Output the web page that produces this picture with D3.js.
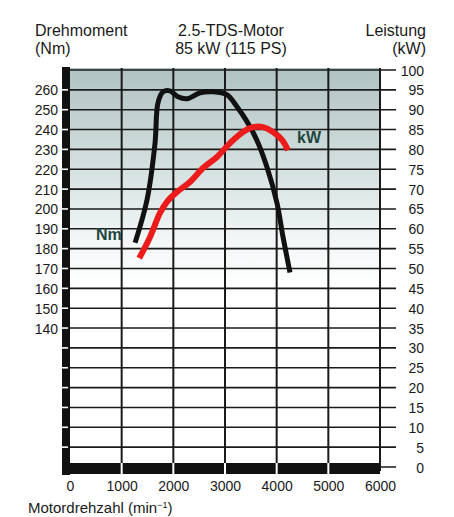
<!DOCTYPE html>
<html>
<head>
<meta charset="utf-8">
<script src="https://cdn.jsdelivr.net/npm/d3@7"></script>
<style>
  body { margin: 0; background: #fff; }
  text { font-family: "Liberation Sans", Arial, sans-serif; fill: #1a1a1a; }
</style>
</head>
<body>
<script>
// rpm values and readings
var rpmTicks = [0, 1000, 2000, 3000, 4000, 5000, 6000];
var kwTicks = d3.range(0, 101, 5);
var nmLabels = [140, 150, 160, 170, 180, 190, 200, 210, 220, 230, 240, 250, 260];
var nmMarks = [80, 90, 100, 110, 120, 130, 140, 150, 160, 170, 180, 190, 200, 210, 220, 230, 240, 250, 260];

var torqueRpm = [1260, 1490, 1645, 1703, 1800, 1935, 2090, 2264, 2516, 2768, 3039, 3232, 3426, 3619, 3813, 4006, 4122, 4258];
var torqueNm  = [183, 204.5, 233, 253.5, 259, 259.5, 256.5, 255.5, 258.5, 259, 257.5, 251.5, 244, 234.5, 221, 203, 186, 168];

var powerRpm = [1340, 1548, 1742, 1877, 2071, 2322, 2574, 2845, 3097, 3348, 3542, 3735, 3929, 4103, 4219];
var powerKw  = [52.6, 57.9, 64.0, 66.8, 69.3, 71.8, 75.3, 78.1, 81.6, 84.4, 85.6, 85.6, 84.4, 82.4, 79.8];

let chart = function() {
    let w = 454, h = 517;

    let svg = d3.select("body").append("svg")
        .attr("width", w)
        .attr("height", h);

    let x = d3.scaleLinear().domain([0, 6000]).range([70, 380]);
    let yKw = d3.scaleLinear().domain([0, 100]).range([467, 70]);
    let yNm = d3.scaleLinear().domain([70, 270]).range([467, 70]);

    // grey-to-white background
    let grad = svg.append("defs").append("linearGradient")
        .attr("id", "bg").attr("x1", 0).attr("y1", 0).attr("x2", 0).attr("y2", 1);
    grad.append("stop").attr("offset", "0").attr("stop-color", "#b0c2c2");
    grad.append("stop").attr("offset", "0.22").attr("stop-color", "#d0dcdc");
    grad.append("stop").attr("offset", "0.42").attr("stop-color", "#f0f5f5");
    grad.append("stop").attr("offset", "0.55").attr("stop-color", "#ffffff");

    svg.append("rect")
        .attr("x", x(0)).attr("y", yKw(100) - 2)
        .attr("width", x(6000) - x(0)).attr("height", yKw(0) - yKw(100) + 2)
        .attr("fill", "url(#bg)");

    // horizontal grid lines with right ticks
    svg.append("g").selectAll("line")
        .data(kwTicks).enter().append("line")
        .attr("x1", x(0)).attr("x2", x(6000) + 16)
        .attr("y1", d => yKw(d)).attr("y2", d => yKw(d))
        .attr("stroke", "#1a1a1a").attr("stroke-width", 1.6);

    // vertical grid lines
    svg.append("g").selectAll("line")
        .data(rpmTicks.slice(1)).enter().append("line")
        .attr("x1", d => x(d)).attr("x2", d => x(d))
        .attr("y1", yKw(100) - 2).attr("y2", yKw(0) + 4)
        .attr("stroke", "#1a1a1a").attr("stroke-width", 2);

    // heavy black frame on the left and bottom
    svg.append("rect")
        .attr("x", x(0) - 8).attr("y", yKw(100) - 3)
        .attr("width", 8).attr("height", yKw(0) - yKw(100) + 11)
        .attr("fill", "#111");
    svg.append("rect")
        .attr("x", x(0) - 8).attr("y", yKw(0) - 4)
        .attr("width", x(6000) - x(0) + 8).attr("height", 11)
        .attr("fill", "#111");
    // white gaps in the bottom bar
    svg.append("g").selectAll("rect")
        .data(rpmTicks.slice(1, 6)).enter().append("rect")
        .attr("x", d => x(d) - 1).attr("y", yKw(0) - 4)
        .attr("width", 2).attr("height", 11)
        .attr("fill", "#fff");
    // white marks on the left bar
    svg.append("g").selectAll("line")
        .data(nmMarks).enter().append("line")
        .attr("x1", x(0) - 8).attr("x2", x(0) - 2)
        .attr("y1", d => yNm(d)).attr("y2", d => yNm(d))
        .attr("stroke", "#fff").attr("stroke-width", 1.6);

    // axes (labels only, lines drawn above)
    let right = svg.append("g")
        .attr("transform", "translate(" + x(6000) + ",0)")
        .call(d3.axisRight(yKw).tickValues(kwTicks).tickSize(0).tickPadding(0));
    right.select(".domain").remove();
    right.selectAll("text")
        .attr("x", 44).attr("dy", "0.36em")
        .attr("text-anchor", "end")
        .attr("font-size", "14px").attr("font-family", null).attr("fill", "#1a1a1a");

    let left = svg.append("g")
        .attr("transform", "translate(58,0)")
        .call(d3.axisLeft(yNm).tickValues(nmLabels).tickSize(0).tickPadding(0));
    left.select(".domain").remove();
    left.selectAll("text")
        .attr("dy", "0.36em")
        .attr("font-size", "14px").attr("font-family", null).attr("fill", "#1a1a1a");

    let bottom = svg.append("g")
        .attr("transform", "translate(0,480)")
        .call(d3.axisBottom(x).tickValues(rpmTicks).tickFormat(d3.format("d")).tickSize(0).tickPadding(0));
    bottom.select(".domain").remove();
    bottom.selectAll("text")
        .attr("dy", "0.78em")
        .attr("font-size", "14px").attr("font-family", null).attr("fill", "#1a1a1a");

    // curves
    let torqueLine = d3.line()
        .x((d, i) => x(torqueRpm[i]))
        .y(d => yNm(d))
        .curve(d3.curveCatmullRom.alpha(0.5));
    let powerLine = d3.line()
        .x((d, i) => x(powerRpm[i]))
        .y(d => yKw(d))
        .curve(d3.curveCatmullRom.alpha(0.5));

    svg.append("path")
        .attr("d", torqueLine(torqueNm))
        .attr("fill", "none").attr("stroke", "#111")
        .attr("stroke-width", 5).attr("stroke-linejoin", "round");
    svg.append("path")
        .attr("d", powerLine(powerKw))
        .attr("fill", "none").attr("stroke", "#ec1c1c")
        .attr("stroke-width", 6).attr("stroke-linejoin", "round");

    // curve labels
    svg.append("text").text("Nm")
        .attr("x", 96).attr("y", 240)
        .attr("font-size", "16px").attr("font-weight", "bold")
        .style("fill", "#1f463e");
    svg.append("text").text("kW")
        .attr("x", 297).attr("y", 143)
        .attr("font-size", "16px").attr("font-weight", "bold")
        .style("fill", "#1f463e");

    // headings
    svg.append("text").text("Drehmoment").attr("x", 35).attr("y", 36).attr("font-size", "16px");
    svg.append("text").text("(Nm)").attr("x", 35).attr("y", 54).attr("font-size", "16px");
    svg.append("text").text("2.5-TDS-Motor").attr("x", 231).attr("y", 36)
        .attr("text-anchor", "middle").attr("font-size", "16px");
    svg.append("text").text("85 kW (115 PS)").attr("x", 231).attr("y", 54)
        .attr("text-anchor", "middle").attr("font-size", "16px");
    svg.append("text").text("Leistung").attr("x", 426).attr("y", 36)
        .attr("text-anchor", "end").attr("font-size", "16px");
    svg.append("text").text("(kW)").attr("x", 426).attr("y", 54)
        .attr("text-anchor", "end").attr("font-size", "16px");

    let xt = svg.append("text").attr("x", 28).attr("y", 513).attr("font-size", "15px");
    xt.append("tspan").text("Motordrehzahl (min");
    xt.append("tspan").text("\u22121").attr("font-size", "9px").attr("dy", -5);
    xt.append("tspan").text(")").attr("dy", 5);
}

chart();
</script>
</body>
</html>
